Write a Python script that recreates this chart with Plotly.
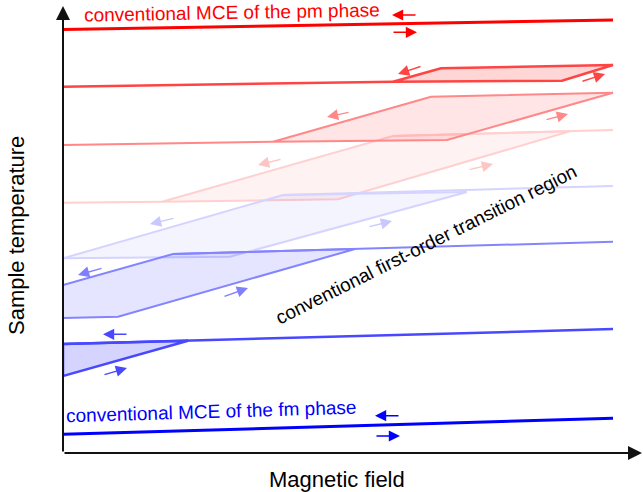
import plotly.graph_objects as go

# ---- data (field H, temperature T in arbitrary schematic units) ----
pm_H = [0, 550]
pm_T = [423.5, 433]
fm_H = [0, 550]
fm_T = [18.7, 34.7]

# hysteresis loops: baseline (left part), parallelogram, continuation line
loop1_base_H = [0, 330]
loop1_base_T = [366.3, 371.3]
loop1_poly_H = [330, 378, 550, 499, 330]
loop1_poly_T = [371.3, 384.7, 388, 372.3, 371.3]

loop2_base_H = [0, 210]
loop2_base_T = [308, 311.3]
loop2_poly_H = [210, 368, 550, 384, 210]
loop2_poly_T = [311.3, 356.3, 360.3, 313, 311.3]

loop3_base_H = [0, 99]
loop3_base_T = [250.3, 251.3]
loop3_poly_H = [99, 330, 507, 275, 99]
loop3_poly_T = [251.3, 317, 321.7, 253.7, 251.3]
loop3_top_H = [330, 550]
loop3_top_T = [317, 323]

loop4_poly_H = [0, 220, 404, 167, 0]
loop4_poly_T = [194.7, 258, 261, 196.3, 194.7]
loop4_top_H = [220, 550]
loop4_top_T = [258, 267]

loop5_poly_H = [0, 55, 292, 110, 0, 0]
loop5_poly_T = [135, 136.3, 204, 199, 168, 135]
loop5_top_H = [110, 550]
loop5_top_T = [199, 211.3]

loop6_top_H = [0, 550]
loop6_top_T = [109, 123.9]
loop6_poly_H = [0, 125, 0, 0]
loop6_poly_T = [109, 112.3, 77, 109]

# small direction arrows: (tail H, tail T, tip H, tip T)
pm_arrows = [(354, 438, 329, 438), (329, 420.7, 354, 420.7)]
loop1_arrows = [(359, 387, 335, 379), (518, 371.3, 542, 379)]
loop2_arrows = [(287, 341, 264, 336), (482, 333, 505, 339)]
loop3_arrows = [(219, 294, 195, 288), (405, 283, 430, 289)]
loop4_arrows = [(112, 235, 87, 229), (305, 226, 329, 232)]
loop5_arrows = [(40, 185, 15, 178), (160, 156, 185, 165)]
loop6_arrows = [(65, 118.7, 40, 118.7), (40, 78, 64, 85)]
fm_arrows = [(337, 37.3, 312, 37.3), (312, 17, 337, 17)]

FONT = "Liberation Sans, Arial, sans-serif"

fig = go.Figure()


def line(h, t, color, width=2):
    fig.add_trace(go.Scatter(x=h, y=t, mode="lines",
                             line=dict(color=color, width=width),
                             hoverinfo="skip", showlegend=False))


def poly(h, t, color, fill, width=2):
    fig.add_trace(go.Scatter(x=h, y=t, mode="lines", fill="toself",
                             fillcolor=fill,
                             line=dict(color=color, width=width),
                             hoverinfo="skip", showlegend=False))


# loops, from the lightest to the strongest colours
poly(loop3_poly_H, loop3_poly_T, "#ffd0d0", "rgba(255,0,0,0.05)")
line(loop3_base_H, loop3_base_T, "#ffd0d0")
line(loop3_top_H, loop3_top_T, "#ffd0d0")

poly(loop4_poly_H, loop4_poly_T, "#d4d4ff", "rgba(0,0,255,0.045)")
line(loop4_top_H, loop4_top_T, "#d4d4ff")

poly(loop2_poly_H, loop2_poly_T, "#ff8888", "rgba(255,0,0,0.1)")
line(loop2_base_H, loop2_base_T, "#ff8888")

poly(loop5_poly_H, loop5_poly_T, "#8484ff", "rgba(0,0,255,0.1)")
line(loop5_top_H, loop5_top_T, "#8484ff")

poly(loop1_poly_H, loop1_poly_T, "#ff4444", "rgba(255,0,0,0.16)", 2.5)
line(loop1_base_H, loop1_base_T, "#ff4444", 2.5)

poly(loop6_poly_H, loop6_poly_T, "#4848ff", "rgba(0,0,255,0.17)", 2.5)
line(loop6_top_H, loop6_top_T, "#4848ff", 2.5)

line(pm_H, pm_T, "#ff0000", 3)
line(fm_H, fm_T, "#0000ff", 3)

annotations = []


def arrows(lst, color):
    for (ah, at, th, tt) in lst:
        annotations.append(dict(x=th, y=tt, ax=ah, ay=at, xref="x", yref="y",
                                axref="x", ayref="y", text="", showarrow=True,
                                arrowhead=2, arrowsize=1.6, arrowwidth=1.4,
                                arrowcolor=color, standoff=0, startstandoff=0))


arrows(pm_arrows, "#ff0000")
arrows(loop1_arrows, "#ff4444")
arrows(loop2_arrows, "#ff8888")
arrows(loop3_arrows, "#ffc4c4")
arrows(loop4_arrows, "#c8c8ff")
arrows(loop5_arrows, "#8080ff")
arrows(loop6_arrows, "#4848ff")
arrows(fm_arrows, "#0000ff")

# axes drawn as arrows
annotations.append(dict(x=579, y=0, ax=0, ay=0, xref="x", yref="y", axref="x",
                        ayref="y", text="", showarrow=True, arrowhead=2,
                        arrowsize=1.4, arrowwidth=2, arrowcolor="#111",
                        standoff=0))
annotations.append(dict(x=0, y=447, ax=0, ay=0, xref="x", yref="y", axref="x",
                        ayref="y", text="", showarrow=True, arrowhead=2,
                        arrowsize=1.4, arrowwidth=2, arrowcolor="#111",
                        standoff=0))

# texts
annotations += [
    dict(x=168.5, y=441, xref="x", yref="y", text="conventional MCE of the pm phase",
         showarrow=False, textangle=-1, font=dict(family=FONT, size=19, color="#ff0000")),
    dict(x=148, y=42, xref="x", yref="y", text="conventional MCE of the fm phase",
         showarrow=False, textangle=-1.7, font=dict(family=FONT, size=19, color="#0000ff")),
    dict(x=363, y=209, xref="x", yref="y", text="conventional first-order transition region",
         showarrow=False, textangle=-26.5, font=dict(family=FONT, size=19, color="#000000")),
    dict(x=0.472, y=-0.0596, xref="paper", yref="paper", xanchor="center", yanchor="middle",
         text="Magnetic field",
         showarrow=False, font=dict(family=FONT, size=22, color="#000000")),
    dict(x=-0.081, y=0.479, xref="paper", yref="paper", xanchor="center", yanchor="middle",
         text="Sample temperature",
         showarrow=False, textangle=-90, font=dict(family=FONT, size=22, color="#000000")),
]

fig.update_layout(
    width=643, height=492,
    margin=dict(l=63, r=0, t=0, b=39, autoexpand=False),
    paper_bgcolor="white", plot_bgcolor="white",
    xaxis=dict(range=[0, 580], visible=False, fixedrange=True),
    yaxis=dict(range=[0, 453], visible=False, fixedrange=True),
    annotations=annotations,
    showlegend=False,
)

fig.write_html("out.html",
               config={"displayModeBar": False},
               post_script="document.body.style.margin='0px';"
                           "document.body.style.overflow='hidden';")
